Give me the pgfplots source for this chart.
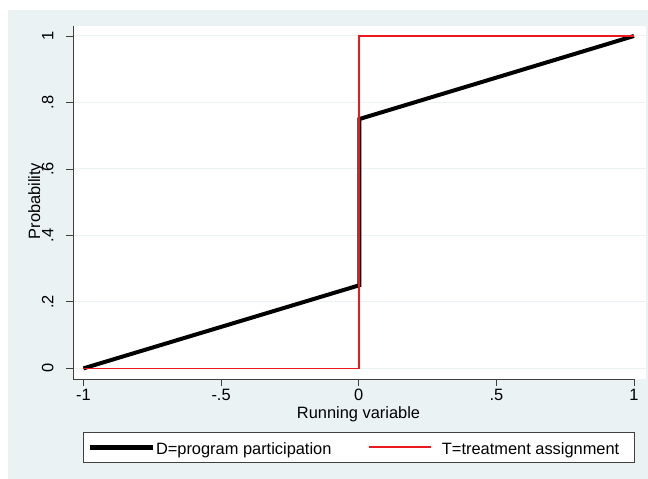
\documentclass[border=0pt]{standalone}
\usepackage{pgfplots}
\pgfplotsset{compat=1.18}
\usepackage{fontspec}
\setmainfont{Liberation Sans}
\definecolor{bgc}{RGB}{234,242,243}
\definecolor{stred}{RGB}{235,25,30}
\pgfplotsset{
  limgA/.style={legend image code/.code={\path[draw=none,fill=none] (0bp,-15bp) rectangle (73bp,15bp);
    \draw[##1, line width=5bp] (7bp,0bp) -- (70bp,0bp);}},
  limgB/.style={legend image code/.code={\path[draw=none,fill=none] (0bp,-15bp) rectangle (110.5bp,15bp);
    \draw[##1] (37.5bp,0bp) -- (99.5bp,0bp);}},
}
\begin{document}
\begin{tikzpicture}[font=\fontsize{16.4bp}{19.7bp}\selectfont]
\path[use as bounding box] (-73bp,-100bp) rectangle (575bp,379bp);
\fill[white] (-73bp,-100bp) rectangle (575bp,379bp);
\fill[bgc] (-65bp,-100bp) rectangle (575bp,369bp);
\begin{axis}[
  at={(0,0)}, anchor=south west,
  scale only axis, width=573bp, height=353bp,
  xmin=-1.038, xmax=1.0436, ymin=-0.032, ymax=1.030,
  clip=false,
  axis background/.style={fill=white},
  axis x line*=bottom, axis y line*=left,
  axis line style={draw=black!75, line width=0.8bp, -},
  x axis line style={draw=none},
  xtick={-1,-0.5,0,0.5,1}, xticklabels={-1,-.5,0,.5,1},
  ytick={0,0.2,0.4,0.6,0.8,1}, yticklabels={0,.2,.4,.6,.8,1},
  tick align=outside, major tick length=7bp,
  tick style={draw=black!75, line width=0.8bp},
  ymajorgrids, grid style={draw=bgc, line width=1bp},
  xticklabel style={anchor=base, inner sep=0pt, yshift=-14.5bp},
  yticklabel style={xshift=-12.5bp, rotate=90, anchor=base, inner sep=0pt},
  xlabel={Running variable}, ylabel={Probability},
  xlabel style={at={(axis description cs:0.4983,-0.1133)}, anchor=base, inner sep=0pt},
  ylabel style={at={(axis description cs:-0.0575,0.504)}, anchor=base, inner sep=0pt},
  legend columns=2,
  legend style={at={(axis description cs:0.01745,-0.15014)}, anchor=north west,
    draw=black!75, line width=0.8bp, fill=white, inner sep=0pt, outer sep=0pt,
    column sep=0pt, row sep=0pt,
    nodes={inner sep=0pt, text height=22bp, text depth=8bp},
    cells={anchor=center}},
]
\draw[black!75, line width=0.8bp] (axis cs:-1.038,-0.032) -- (axis cs:1.004,-0.032);
\addplot[black, line width=4bp, line join=miter, limgA]
  coordinates {(-1,0) (0.002,0.25) (0.002,0.75) (1,1)};
\addlegendentry{D=program participation}
\addplot[stred, line width=1.6bp, limgB]
  coordinates {(-1,0) (0,0) (0,1) (1,1)};
\addlegendentry{T=treatment assignment\rule{15bp}{0pt}}
\end{axis}
\end{tikzpicture}
\end{document}
